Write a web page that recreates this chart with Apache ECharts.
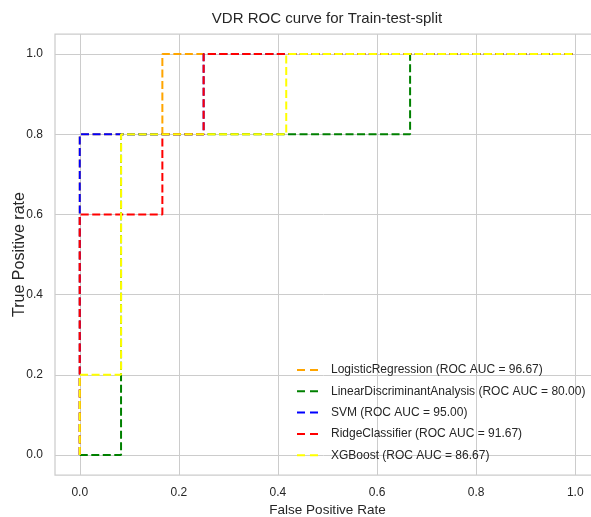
<!DOCTYPE html>
<html>
<head>
<meta charset="utf-8">
<script src="https://cdn.jsdelivr.net/npm/echarts@6/dist/echarts.min.js"></script>
<style>
  html, body { margin: 0; padding: 0; background: #fff; }
  #chart { width: 591px; height: 517px; }
</style>
</head>
<body>
<div id="chart"></div>
<script>
// tick labels
var tickValues = [0, 0.2, 0.4, 0.6, 0.8, 1.0];

// one fpr / tpr list per model
var lrFpr = [0, 0, 0.1667, 0.1667, 1];
var lrTpr = [0, 0.8, 0.8, 1, 1];
var ldaFpr = [0, 0.0833, 0.0833, 0.6667, 0.6667, 1];
var ldaTpr = [0, 0, 0.8, 0.8, 1, 1];
var svmFpr = [0, 0, 0.25, 0.25, 1];
var svmTpr = [0, 0.8, 0.8, 1, 1];
var ridgeFpr = [0, 0, 0.1667, 0.1667, 0.25, 0.25, 1];
var ridgeTpr = [0, 0.6, 0.6, 0.8, 0.8, 1, 1];
var xgbFpr = [0, 0, 0.0833, 0.0833, 0.4167, 0.4167, 1];
var xgbTpr = [0, 0.2, 0.2, 0.8, 0.8, 1, 1];

var modelNames = [
  'LogisticRegression (ROC AUC = 96.67)',
  'LinearDiscriminantAnalysis (ROC AUC = 80.00)',
  'SVM (ROC AUC = 95.00)',
  'RidgeClassifier (ROC AUC = 91.67)',
  'XGBoost (ROC AUC = 86.67)'
];
var colors = ['#ffa500', '#008000', '#0000ff', '#ff0000', '#ffff00'];

function pairs(xs, ys) {
  return xs.map(function (x, i) { return [x, ys[i]]; });
}
var curves = [
  pairs(lrFpr, lrTpr),
  pairs(ldaFpr, ldaTpr),
  pairs(svmFpr, svmTpr),
  pairs(ridgeFpr, ridgeTpr),
  pairs(xgbFpr, xgbTpr)
];

var font = 'Liberation Sans';
var textColor = '#262626';
var chart = echarts.init(document.getElementById('chart'));

var axisCommon = {
  type: 'value',
  min: -0.05,
  max: 1.05,
  nameLocation: 'middle',
  nameMoveOverlap: false,
  axisLine: { show: false },
  axisTick: { show: false, customValues: tickValues },
  axisLabel: {
    customValues: tickValues,
    fontFamily: font,
    fontSize: 12,
    color: textColor,
    margin: 12,
    formatter: function (v) { return v.toFixed(1); }
  },
  splitLine: { show: true, lineStyle: { color: '#cccccc', width: 1 } }
};

var option = {
  animation: false,
  color: colors,
  title: {
    text: 'VDR ROC curve for Train-test-split',
    left: 327,
    top: 11,
    textAlign: 'center',
    padding: 0,
    textStyle: { fontFamily: font, fontSize: 15, fontWeight: 'normal', color: textColor }
  },
  grid: {
    left: 55,
    top: 34,
    width: 545,
    height: 441,
    containLabel: false,
    outerBoundsMode: 'none',
    show: true,
    borderColor: '#cccccc',
    borderWidth: 1.25,
    backgroundColor: '#fff'
  },
  legend: {
    orient: 'vertical',
    left: 297,
    top: 363,
    padding: 0,
    icon: 'path://M0,0H8V2H0Z M13,0H21V2H13Z',
    itemWidth: 21,
    itemHeight: 2,
    itemGap: 7.3,
    data: modelNames,
    textStyle: {
      fontFamily: font,
      fontSize: 12,
      color: textColor,
      lineHeight: 14,
      padding: [0, 0, 0, 8]
    }
  },
  xAxis: Object.assign({}, axisCommon, {
    name: 'False Positive Rate',
    nameGap: 28,
    nameTextStyle: { fontFamily: font, fontSize: 13.5, color: textColor }
  }),
  yAxis: Object.assign({}, axisCommon, {
    name: 'True Positive rate',
    nameGap: 27,
    nameTextStyle: { fontFamily: font, fontSize: 16, color: textColor }
  }),
  series: curves.map(function (d, i) {
    return {
      name: modelNames[i],
      type: 'line',
      data: d,
      symbol: 'none',
      lineStyle: { color: colors[i], width: 2, type: [8, 3.5] }
    };
  })
};

chart.setOption(option);
</script>
</body>
</html>
